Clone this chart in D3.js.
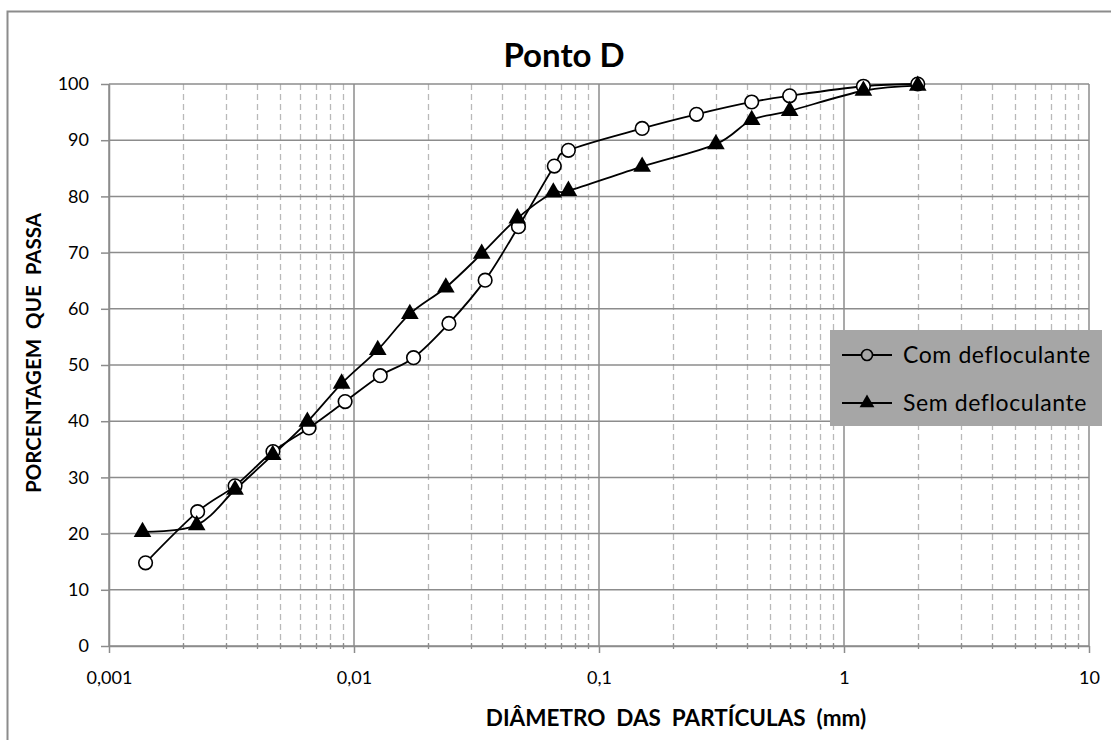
<!DOCTYPE html>
<html>
<head>
<meta charset="utf-8">
<script src="https://cdn.jsdelivr.net/npm/d3@7"></script>
<style>
  html, body { margin: 0; padding: 0; background: #fff; }
  svg { display: block; font-family: Lato, "Open Sans", sans-serif; }
</style>
</head>
<body>
<svg id="chart" width="1111" height="740"></svg>
<script>
// Grain-size distribution, Ponto D
const seriesNames = ["Com defloculante", "Sem defloculante"];

// particle diameter (mm) and percent passing, with dispersant
const comDiam = [0.00141, 0.0023, 0.00327, 0.00467, 0.00655, 0.0092, 0.0128, 0.0175, 0.0244, 0.0343, 0.0469, 0.0657, 0.075, 0.15, 0.25, 0.42, 0.6, 1.2, 2.0];
const comPass = [14.8, 23.9, 28.5, 34.6, 38.8, 43.5, 48.1, 51.3, 57.4, 65.1, 74.6, 85.4, 88.2, 92.1, 94.6, 96.8, 97.9, 99.6, 100];

// particle diameter (mm) and percent passing, without dispersant
const semDiam = [0.00137, 0.00228, 0.00327, 0.00466, 0.00645, 0.0089, 0.0125, 0.0169, 0.0237, 0.0332, 0.0464, 0.0651, 0.075, 0.15, 0.3, 0.42, 0.6, 1.2, 2.0];
const semPass = [20.3, 21.5, 27.8, 34.0, 39.9, 46.7, 52.7, 59.1, 63.8, 69.8, 76.1, 80.7, 81.0, 85.3, 89.3, 93.6, 95.2, 98.8, 99.7];

const xTickValues = [0.001, 0.01, 0.1, 1, 10];
const xTickLabels = ["0,001", "0,01", "0,1", "1", "10"];
const yTickValues = [0, 10, 20, 30, 40, 50, 60, 70, 80, 90, 100];

const titleText = "Ponto D";
const xTitle = "DIÂMETRO  DAS  PARTÍCULAS  (mm)";
const yTitle = "PORCENTAGEM  QUE  PASSA";

const svg = d3.select("#chart");
const W = 1111, H = 740;
const plot = { left: 109, right: 1089, top: 84, bottom: 646 };

const x = d3.scaleLog().domain([0.001, 10]).range([plot.left, plot.right]);
const y = d3.scaleLinear().domain([0, 100]).range([plot.bottom, plot.top]);

const majorGrid = "#8c8c8c";
const minorGrid = "#b9b9b9";

// chart frame
svg.append("rect")
  .attr("x", 7.5).attr("y", 11.5)
  .attr("width", W + 10).attr("height", H + 10)
  .attr("fill", "#fff").attr("stroke", majorGrid).attr("stroke-width", 2);

// minor vertical grid (2..9 within each decade)
const minorVals = [];
for (let e = -3; e < 1; e++) {
  for (let m = 2; m <= 9; m++) minorVals.push(m * Math.pow(10, e));
}
svg.append("g").selectAll("line").data(minorVals).join("line")
  .attr("x1", d => Math.round(x(d)) + 0.5).attr("x2", d => Math.round(x(d)) + 0.5)
  .attr("y1", plot.top).attr("y2", plot.bottom)
  .attr("stroke", minorGrid).attr("stroke-width", 1.3)
  .attr("stroke-dasharray", "6,4");

// horizontal major grid
svg.append("g").selectAll("line").data(yTickValues).join("line")
  .attr("x1", plot.left).attr("x2", plot.right)
  .attr("y1", d => y(d)).attr("y2", d => y(d))
  .attr("stroke", majorGrid).attr("stroke-width", 1.5);

// vertical major grid
svg.append("g").selectAll("line").data(xTickValues).join("line")
  .attr("x1", d => x(d)).attr("x2", d => x(d))
  .attr("y1", plot.top).attr("y2", plot.bottom)
  .attr("stroke", majorGrid).attr("stroke-width", 1.5);

// axes
const xAxis = d3.axisBottom(x).tickValues(xTickValues)
  .tickFormat((d, i) => xTickLabels[i]).tickSize(7).tickSizeOuter(0).tickPadding(18);
const gx = svg.append("g").attr("transform", `translate(0,${plot.bottom})`).call(xAxis);
gx.select(".domain").attr("stroke", majorGrid).attr("stroke-width", 1.5);
gx.selectAll(".tick line").attr("stroke", majorGrid).attr("stroke-width", 1.5);
gx.selectAll(".tick text").attr("font-size", 18).attr("fill", "#000")
  .attr("font-family", "Lato, sans-serif");

// minor tick marks on the x axis
svg.append("g").selectAll("line").data(minorVals).join("line")
  .attr("x1", d => Math.round(x(d)) + 0.5).attr("x2", d => Math.round(x(d)) + 0.5)
  .attr("y1", plot.bottom - 3).attr("y2", plot.bottom + 3)
  .attr("stroke", majorGrid).attr("stroke-width", 1.3);

const yAxis = d3.axisLeft(y).tickValues(yTickValues).tickSize(8).tickSizeOuter(0).tickPadding(12);
const gy = svg.append("g").attr("transform", `translate(${plot.left},0)`).call(yAxis);
gy.select(".domain").attr("stroke", majorGrid).attr("stroke-width", 1.5);
gy.selectAll(".tick line").attr("stroke", majorGrid).attr("stroke-width", 1.5);
gy.selectAll(".tick text").attr("font-size", 18).attr("fill", "#000")
  .attr("font-family", "Lato, sans-serif");

// smoothed curves
const line = d3.line()
  .x(d => x(d[0])).y(d => y(d[1]))
  .curve(d3.curveCardinal.tension(0));

const comPts = comDiam.map((d, i) => [d, comPass[i]]);
const semPts = semDiam.map((d, i) => [d, semPass[i]]);

svg.append("path").datum(comPts).attr("d", line)
  .attr("fill", "none").attr("stroke", "#000").attr("stroke-width", 1.8);
svg.append("path").datum(semPts).attr("d", line)
  .attr("fill", "none").attr("stroke", "#000").attr("stroke-width", 1.8);

const tri = d3.symbol().type(d3.symbolTriangle).size(135);

svg.append("g").selectAll("circle").data(comPts).join("circle")
  .attr("cx", d => x(d[0])).attr("cy", d => y(d[1])).attr("r", 6.8)
  .attr("fill", "#fff").attr("stroke", "#000").attr("stroke-width", 1.6);

svg.append("g").selectAll("path").data(semPts).join("path")
  .attr("d", tri)
  .attr("transform", d => `translate(${x(d[0])},${y(d[1])})`)
  .attr("fill", "#000");

// titles
svg.append("text").attr("x", 564).attr("y", 67).attr("text-anchor", "middle")
  .attr("font-size", 33).attr("font-weight", "bold").attr("fill", "#000")
  .text(titleText);

svg.append("text").attr("x", 676).attr("y", 726).attr("text-anchor", "middle")
  .attr("font-size", 22.5).attr("font-weight", "bold").attr("fill", "#000")
  .attr("xml:space", "preserve").style("white-space", "pre")
  .text(xTitle);

svg.append("text").attr("transform", "translate(41,353) rotate(-90)")
  .attr("text-anchor", "middle")
  .attr("font-size", 20.5).attr("font-weight", "bold").attr("fill", "#000")
  .style("white-space", "pre")
  .text(yTitle);

// legend
const lg = svg.append("g");
lg.append("rect").attr("x", 830).attr("y", 330).attr("width", 272).attr("height", 96)
  .attr("fill", "#a6a6a6");
const rows = [355, 403];
rows.forEach((ry, i) => {
  lg.append("line").attr("x1", 842).attr("x2", 892).attr("y1", ry).attr("y2", ry)
    .attr("stroke", "#000").attr("stroke-width", 1.8);
  if (i === 0) {
    lg.append("circle").attr("cx", 867).attr("cy", ry).attr("r", 5.5)
      .attr("fill", "#a6a6a6").attr("stroke", "#000").attr("stroke-width", 1.6);
  } else {
    lg.append("path").attr("d", d3.symbol().type(d3.symbolTriangle).size(95))
      .attr("transform", `translate(867,${ry})`).attr("fill", "#000");
  }
  lg.append("text").attr("x", 903).attr("y", ry + 8)
    .attr("font-size", 23).attr("fill", "#000")
    .attr("letter-spacing", 0.6)
    .text(seriesNames[i]);
});
</script>
</body>
</html>
